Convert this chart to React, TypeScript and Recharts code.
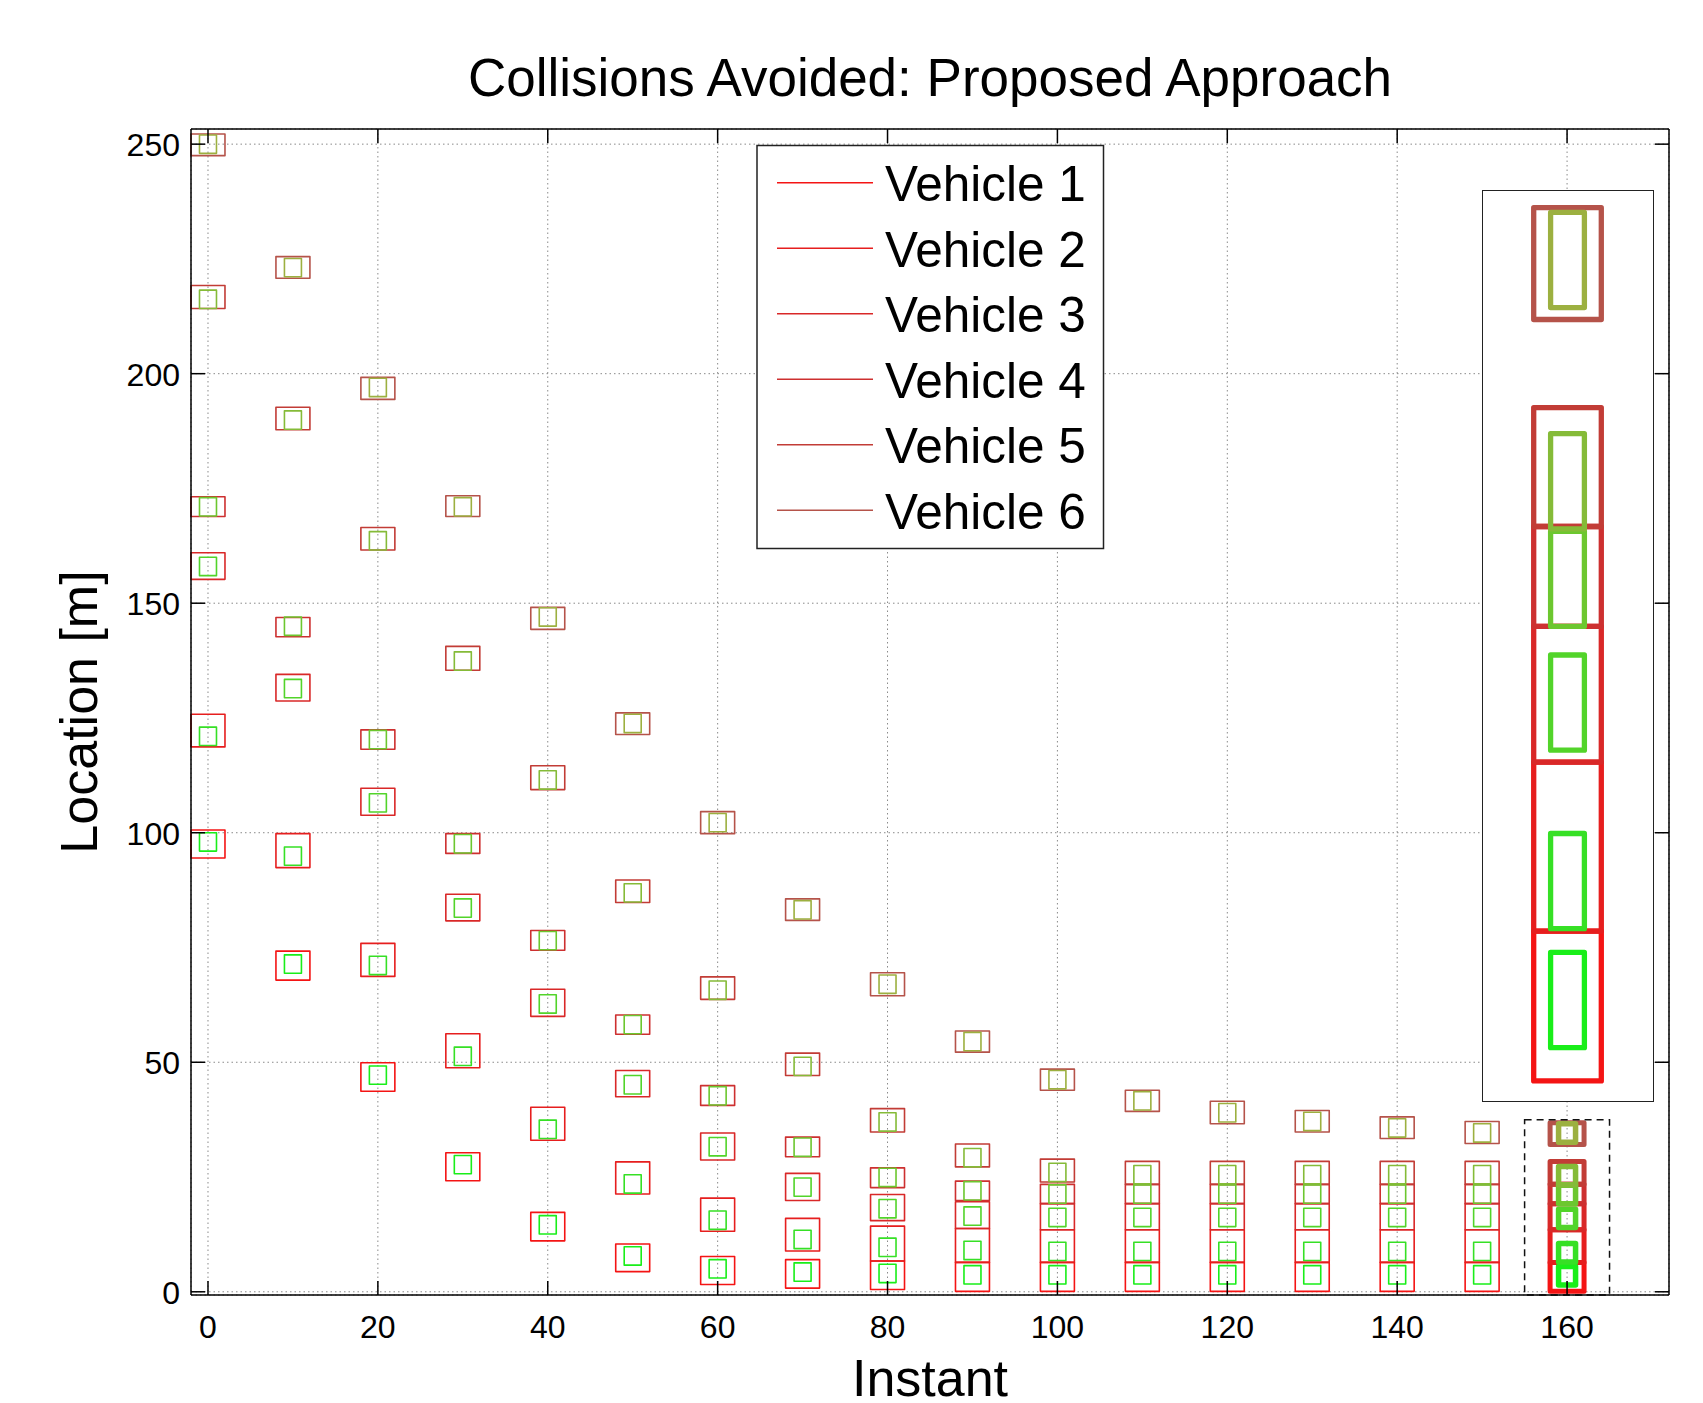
import { ComposedChart, XAxis, YAxis, CartesianGrid, ReferenceArea } from 'recharts'

const FONT = '"Liberation Sans", Arial, Helvetica, sans-serif'

// instants (x) and vehicle positions along the road (y, metres)
const INSTANTS = [0, 10, 20, 30, 40, 50, 60, 70, 80, 90, 100, 110, 120, 130, 140, 150, 160]

// centre of each vehicle body
const CENTER_V1 = [98, 71.4, 47.2, 27.7, 14.6, 7.8, 5.0, 4.3, 4.0, 3.7, 3.7, 3.7, 3.7, 3.7, 3.7, 3.7, 3.5]
const CENTER_V2 = [121, 94.9, 71.1, 51.3, 35.4, 23.5, 15.6, 11.4, 9.7, 9.0, 8.8, 8.8, 8.8, 8.8, 8.8, 8.8, 8.5]
const CENTER_V3 = [158, 131.4, 106.5, 83.6, 62.7, 45.1, 31.6, 22.8, 18.1, 16.5, 16.2, 16.2, 16.2, 16.2, 16.2, 16.2, 16.0]
const CENTER_V4 = [171, 145, 120.3, 97.6, 76.5, 58.2, 42.7, 31.5, 24.9, 22.0, 21.3, 21.3, 21.3, 21.3, 21.3, 21.3, 21.2]
const CENTER_V5 = [216.2, 189.9, 163.6, 137.4, 111.5, 86.9, 65.7, 49.1, 37.0, 29.2, 26.0, 25.5, 25.5, 25.5, 25.5, 25.5, 25.3]
const CENTER_V6 = [250, 223.1, 197, 171, 147, 123.8, 102.2, 83.2, 67, 54.5, 46.2, 41.6, 39, 37.1, 35.7, 34.6, 34.6]

// safety region, lower and upper end
const SAFE_LO_V1 = [94.5, 67.9, 43.7, 24.2, 11.1, 4.4, 1.6, 0.8, 0.5, 0.1, 0.1, 0.1, 0.1, 0.1, 0.1, 0.1, 0.1]
const SAFE_HI_V1 = [100.6, 74.2, 49.9, 30.3, 17.3, 10.4, 7.7, 7.0, 6.7, 6.4, 6.4, 6.4, 6.4, 6.4, 6.4, 6.4, 6.4]
const SAFE_LO_V2 = [118.7, 92.4, 68.7, 48.8, 33.0, 21.3, 13.2, 8.9, 6.7, 6.4, 6.4, 6.4, 6.4, 6.4, 6.4, 6.4, 6.4]
const SAFE_HI_V2 = [125.8, 99.8, 75.9, 56.2, 40.2, 28.3, 20.4, 16.0, 14.3, 13.8, 13.5, 13.5, 13.5, 13.5, 13.5, 13.5, 13.5]
const SAFE_LO_V3 = [155.2, 128.7, 103.8, 80.8, 60.0, 42.5, 28.7, 19.9, 15.5, 13.8, 13.5, 13.5, 13.5, 13.5, 13.5, 13.5, 13.5]
const SAFE_HI_V3 = [161.0, 134.5, 109.7, 86.6, 65.9, 48.2, 34.6, 25.8, 21.2, 19.6, 19.2, 19.2, 19.2, 19.2, 19.2, 19.2, 19.2]
const SAFE_LO_V4 = [168.9, 142.7, 118.2, 95.5, 74.4, 56.1, 40.6, 29.4, 22.7, 19.9, 19.2, 19.2, 19.2, 19.2, 19.2, 19.2, 19.2]
const SAFE_HI_V4 = [173.2, 146.9, 122.4, 99.8, 78.7, 60.3, 44.9, 33.7, 27.0, 24.1, 23.4, 23.4, 23.4, 23.4, 23.4, 23.4, 23.4]
const SAFE_LO_V5 = [214.2, 187.8, 161.6, 135.4, 109.4, 84.8, 63.7, 47.1, 34.8, 27.2, 23.9, 23.4, 23.4, 23.4, 23.4, 23.4, 23.4]
const SAFE_HI_V5 = [219.2, 192.7, 166.5, 140.6, 114.6, 89.7, 68.6, 52.0, 39.9, 32.2, 28.9, 28.4, 28.4, 28.4, 28.4, 28.4, 28.4]
const SAFE_LO_V6 = [247.5, 220.8, 194.4, 168.9, 144.3, 121.4, 99.8, 80.9, 64.5, 52.2, 43.9, 39.3, 36.6, 34.8, 33.4, 32.3, 32.1]
const SAFE_HI_V6 = [252.2, 225.5, 199.2, 173.4, 149.1, 126.1, 104.6, 85.6, 69.5, 56.8, 48.5, 43.9, 41.5, 39.5, 38.1, 37.1, 36.8]

const VEHICLE_NAMES = ['Vehicle 1', 'Vehicle 2', 'Vehicle 3', 'Vehicle 4', 'Vehicle 5', 'Vehicle 6']
const X_TICKS = [0, 20, 40, 60, 80, 100, 120, 140, 160]
const Y_TICKS = [0, 50, 100, 150, 200, 250]

const OUTER_COLORS = ['#f41414', '#e61e1e', '#d92828', '#cd3030', '#c23c36', '#b5534a']
const INNER_COLORS = ['#19ee19', '#36e025', '#52d42a', '#6cc72f', '#85bb38', '#9cb040']

const VEHICLE_HALF_LEN = 2 // body is 4 m long
const OUTER_HALF_W = 2 // drawn width in instants
const INNER_HALF_W = 1
const ZOOM_INSTANT = 160
const X_DOMAIN: [number, number] = [-2, 172]
const Y_DOMAIN: [number, number] = [-0.7, 253.3]
const ZOOM_X: [number, number] = [155, 165]
const ZOOM_Y: [number, number] = [-0.7, 37.5]
const TICK_LEN = 14

const centers = [CENTER_V1, CENTER_V2, CENTER_V3, CENTER_V4, CENTER_V5, CENTER_V6]
const safeLo = [SAFE_LO_V1, SAFE_LO_V2, SAFE_LO_V3, SAFE_LO_V4, SAFE_LO_V5, SAFE_LO_V6]
const safeHi = [SAFE_HI_V1, SAFE_HI_V2, SAFE_HI_V3, SAFE_HI_V4, SAFE_HI_V5, SAFE_HI_V6]

const boxes = centers.flatMap((c, v) =>
  INSTANTS.map((t, i) => ({ v, t, c: c[i], lo: safeLo[v][i], hi: safeHi[v][i] }))
)

const axisLine = { stroke: '#000', strokeWidth: 1.5 }

const BottomTick = (p: any) => (
  <g>
    <line x1={p.x} x2={p.x} y1={p.y} y2={p.y - TICK_LEN} stroke="#000" strokeWidth={1.5} />
    <text x={p.x} y={p.y + 43} textAnchor="middle" fontSize={32} fontFamily={FONT} fill="#000">
      {p.payload.value}
    </text>
  </g>
)
const TopTick = (p: any) => (
  <line x1={p.x} x2={p.x} y1={p.y} y2={p.y + TICK_LEN} stroke="#000" strokeWidth={1.5} />
)
const LeftTick = (p: any) => (
  <g>
    <line x1={p.x} x2={p.x + TICK_LEN} y1={p.y} y2={p.y} stroke="#000" strokeWidth={1.5} />
    <text x={p.x - 11} y={p.y + 12} textAnchor="end" fontSize={32} fontFamily={FONT} fill="#000">
      {p.payload.value}
    </text>
  </g>
)
const RightTick = (p: any) => (
  <line x1={p.x} x2={p.x - TICK_LEN} y1={p.y} y2={p.y} stroke="#000" strokeWidth={1.5} />
)

function drawBoxes(list: typeof boxes, outerW: (t: number) => number, innerW: (t: number) => number) {
  return [
    ...list.map(b => (
      <ReferenceArea
        key={`o${b.v}-${b.t}`}
        x1={b.t - OUTER_HALF_W}
        x2={b.t + OUTER_HALF_W}
        y1={b.lo}
        y2={b.hi}
        fill="none"
        stroke={OUTER_COLORS[b.v]}
        strokeWidth={outerW(b.t)}
        strokeLinejoin="round"
        ifOverflow="visible"
      />
    )),
    ...list.map(b => (
      <ReferenceArea
        key={`i${b.v}-${b.t}`}
        x1={b.t - INNER_HALF_W}
        x2={b.t + INNER_HALF_W}
        y1={b.c - VEHICLE_HALF_LEN}
        y2={b.c + VEHICLE_HALF_LEN}
        fill="none"
        stroke={INNER_COLORS[b.v]}
        strokeWidth={innerW(b.t)}
        strokeLinejoin="round"
        ifOverflow="visible"
      />
    )),
  ]
}

export default function App() {
  const chartData = INSTANTS.map(t => ({ t }))
  const zoomBoxes = boxes.filter(b => b.t === ZOOM_INSTANT)
  const outerMain = (t: number) => (t === ZOOM_INSTANT ? 5 : 1.6)
  const innerMain = (t: number) => (t === ZOOM_INSTANT ? 5.5 : 1.6)

  // plot area: x 191..1669, y 129..1295
  return (
    <div style={{ position: 'absolute', left: 0, top: 0, width: 1703, height: 1403, background: '#fff', fontFamily: FONT }}>
      <ComposedChart width={1703} height={1403} data={chartData} margin={{ top: 128, right: 33, bottom: 48, left: 111 }}>
        <CartesianGrid stroke="#8a8a8a" strokeDasharray="1.5 3" strokeWidth={1} />
        <XAxis
          dataKey="t"
          type="number"
          domain={X_DOMAIN}
          ticks={X_TICKS}
          height={60}
          tickSize={0}
          tickMargin={0}
          tickLine={false}
          tick={BottomTick}
          axisLine={axisLine}
          allowDataOverflow
        />
        <XAxis
          xAxisId="top"
          orientation="top"
          dataKey="t"
          type="number"
          domain={X_DOMAIN}
          ticks={X_TICKS}
          height={1}
          tickSize={0}
          tickMargin={0}
          tickLine={false}
          tick={TopTick}
          axisLine={axisLine}
          allowDataOverflow
        />
        <YAxis
          type="number"
          domain={Y_DOMAIN}
          ticks={Y_TICKS}
          width={80}
          tickSize={0}
          tickMargin={0}
          tickLine={false}
          tick={LeftTick}
          axisLine={axisLine}
          allowDataOverflow
        />
        <YAxis
          yAxisId="right"
          orientation="right"
          type="number"
          domain={Y_DOMAIN}
          ticks={Y_TICKS}
          width={1}
          tickSize={0}
          tickMargin={0}
          tickLine={false}
          tick={RightTick}
          axisLine={axisLine}
          allowDataOverflow
        />
        {drawBoxes(boxes, outerMain, innerMain)}
        <ReferenceArea
          x1={ZOOM_X[0]}
          x2={ZOOM_X[1]}
          y1={ZOOM_Y[0]}
          y2={ZOOM_Y[1]}
          fill="none"
          stroke="#111"
          strokeWidth={1.5}
          strokeDasharray="7 5"
          ifOverflow="visible"
        />
      </ComposedChart>

      {/* zoomed view of the last instant */}
      <div
        style={{
          position: 'absolute', left: 1482, top: 189.5, width: 172, height: 912,
          border: '1.5px solid #222', background: '#fff', boxSizing: 'border-box',
        }}
      >
        <ComposedChart width={169} height={909} data={chartData} margin={{ top: 0, right: 0, bottom: 0, left: 0 }}>
          <XAxis dataKey="t" type="number" domain={ZOOM_X} hide allowDataOverflow />
          <YAxis type="number" domain={ZOOM_Y} hide allowDataOverflow />
          {drawBoxes(zoomBoxes, () => 5.3, () => 5.3)}
        </ComposedChart>
      </div>

      <svg
        width={1703}
        height={1403}
        style={{ position: 'absolute', left: 0, top: 0, pointerEvents: 'none' }}
        fontFamily={FONT}
      >
        <text x={930} y={96} textAnchor="middle" fontSize={53} fill="#000">
          Collisions Avoided: Proposed Approach
        </text>
        <text x={930} y={1396} textAnchor="middle" fontSize={52} fill="#000">
          Instant
        </text>
        <text x={97} y={712} textAnchor="middle" fontSize={52} fill="#000" transform="rotate(-90 97 712)">
          Location [m]
        </text>

        <rect x={757} y={145.5} width={346.5} height={403} fill="#fff" stroke="#222" strokeWidth={1.5} />
        {VEHICLE_NAMES.map((name, i) => (
          <g key={name}>
            <line
              x1={777}
              x2={873}
              y1={182.7 + i * 65.5}
              y2={182.7 + i * 65.5}
              stroke={OUTER_COLORS[i]}
              strokeWidth={1.6}
            />
            <text x={885} y={201 + i * 65.5} fontSize={49.5} fill="#000">
              {name}
            </text>
          </g>
        ))}
      </svg>
    </div>
  )
}
